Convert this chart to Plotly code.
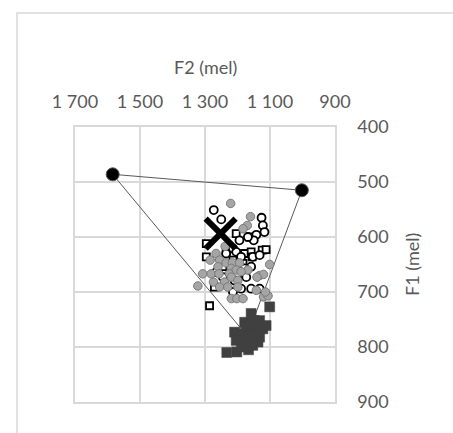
import plotly.graph_objects as go

# Vowel triangle vertices (F2, F1 in mel)
tri_f2 = [1584, 1002, 1170, 1584]
tri_f1 = [486, 515, 780, 486]
corner_f2 = [1584, 1002]
corner_f1 = [486, 515]

# Grey filled circles
grey_f2 = [1221, 1160, 1170, 1183, 1238, 1266, 1284, 1255, 1235, 1216, 1194, 1101, 1260,
           1219, 1204, 1168, 1307, 1281, 1257, 1225, 1189, 1132, 1120, 1140, 1274, 1240,
           1219, 1199, 1322, 1255, 1199, 1142, 1120, 1106, 1114, 1219, 1202, 1183, 1230]
grey_f1 = [539, 563, 579, 585, 617, 630, 642, 642, 647, 647, 647, 650, 654,
           657, 660, 660, 667, 667, 667, 667, 663, 670, 668, 673, 682, 682,
           673, 679, 689, 691, 691, 697, 709, 707, 700, 712, 712, 712, 691]

# Open circles
ocirc_f2 = [1273, 1250, 1126, 1122, 1117, 1142, 1150, 1168, 1194, 1214, 1235, 1204, 1189,
            1153, 1132, 1158, 1178, 1266, 1245, 1209, 1173, 1158, 1132, 1189, 1214]
ocirc_f1 = [551, 568, 565, 579, 591, 596, 606, 600, 606, 621, 630, 627, 636,
            636, 633, 654, 657, 664, 673, 679, 673, 694, 694, 694, 700]

# Open squares
osq_f2 = [1296, 1296, 1204, 1178, 1158, 1155, 1124, 1112, 1235, 1271, 1286, 1214, 1245,
          1183, 1163, 1178]
osq_f1 = [612, 636, 594, 630, 627, 636, 624, 623, 627, 691, 725, 642, 654,
          648, 600, 667]

# Dark filled squares
dsq_f2 = [1101, 1158, 1178, 1132, 1112, 1209, 1185, 1163, 1142, 1122, 1204, 1178, 1153,
          1132, 1188, 1166, 1202, 1233, 1142, 1173, 1158, 1148, 1168, 1137, 1153]
dsq_f1 = [727, 739, 755, 752, 761, 773, 776, 770, 767, 767, 788, 788, 785,
          782, 800, 805, 809, 810, 776, 761, 758, 752, 794, 791, 797]

# Mean marker (big X)
x_f2 = [1252]
x_f1 = [594]

x_ticks = [1700, 1500, 1300, 1100, 900]
x_ticktext = ["1 700", "1 500", "1 300", "1 100", "900"]
y_ticks = [400, 500, 600, 700, 800, 900]

W, H = 453, 433
L, R, T, B = 75, 118, 127, 31
FONT = "Lato"
FS = 18
TXT = "#595959"

fig = go.Figure()
fig.add_trace(go.Scatter(x=tri_f2, y=tri_f1, mode="lines",
                         line=dict(color="#595959", width=1), hoverinfo="skip"))
fig.add_trace(go.Scatter(x=dsq_f2, y=dsq_f1, mode="markers",
                         marker=dict(symbol="square", size=10, color="#404040",
                                     line=dict(color="#404040", width=0.5))))
fig.add_trace(go.Scatter(x=osq_f2, y=osq_f1, mode="markers",
                         marker=dict(symbol="square", size=7, color="white",
                                     line=dict(color="black", width=1.8))))
fig.add_trace(go.Scatter(x=ocirc_f2, y=ocirc_f1, mode="markers",
                         marker=dict(symbol="circle", size=8, color="white",
                                     line=dict(color="black", width=1.8))))
fig.add_trace(go.Scatter(x=grey_f2, y=grey_f1, mode="markers",
                         marker=dict(symbol="circle", size=8.5, color="#a5a5a5",
                                     line=dict(color="#7a7a7a", width=1))))
fig.add_trace(go.Scatter(x=x_f2, y=x_f1, mode="markers",
                         marker=dict(symbol="x-thin-open", size=30, color="black",
                                     line=dict(color="black", width=6))))
fig.add_trace(go.Scatter(x=corner_f2, y=corner_f1, mode="markers",
                         marker=dict(symbol="circle", size=13, color="black",
                                     line=dict(color="#595959", width=1))))

pw = W - L - R
ph = H - T - B
def px(xp):
    return (xp - L) / pw
def py(yp):
    return 1 - (yp - T) / ph

fig.update_layout(
    width=W, height=H,
    margin=dict(l=L, r=R, t=T, b=B),
    paper_bgcolor="white", plot_bgcolor="white",
    showlegend=False,
    font=dict(family=FONT, size=FS, color=TXT),
    xaxis=dict(side="top", range=[1700, 900], tickvals=x_ticks, ticktext=x_ticktext,
               showgrid=True, gridcolor="#d9d9d9", gridwidth=1.5,
               showline=True, mirror=True, linecolor="#d9d9d9", linewidth=1.5,
               zeroline=False, ticks="", ticklabelstandoff=10,
               tickfont=dict(family=FONT, size=FS, color=TXT)),
    yaxis=dict(side="right", range=[900, 400], tickvals=y_ticks,
               showgrid=True, gridcolor="#d9d9d9", gridwidth=1.5,
               showline=True, mirror=True, linecolor="#d9d9d9", linewidth=1.5,
               zeroline=False, ticks="", ticklabelstandoff=17,
               tickfont=dict(family=FONT, size=FS, color=TXT)),
    shapes=[dict(type="rect", xref="paper", yref="paper",
                 x0=px(17), x1=px(W + 20), y0=py(13), y1=py(H + 20),
                 line=dict(color="#d9d9d9", width=1.5), fillcolor="rgba(0,0,0,0)")],
    annotations=[
        dict(text="F2 (mel)", xref="paper", yref="paper", x=px(205), y=py(67),
             showarrow=False, xanchor="center", yanchor="middle",
             font=dict(family=FONT, size=FS, color=TXT)),
        dict(text="F1 (mel)", xref="paper", yref="paper", x=px(412), y=py(265),
             showarrow=False, xanchor="center", yanchor="middle", textangle=-90,
             font=dict(family=FONT, size=FS, color=TXT)),
    ],
)

fig.write_html("out.html")
